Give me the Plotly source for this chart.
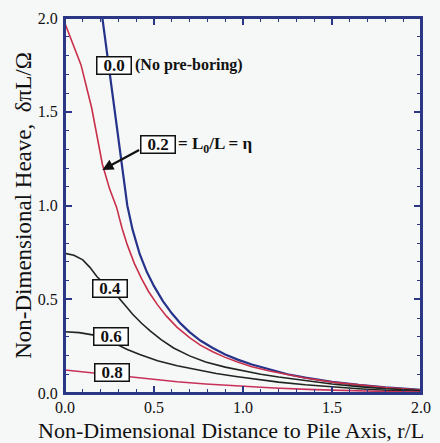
import plotly.graph_objects as go

# Non-dimensional distance r/L and heave for each pre-boring ratio eta = L0/L
r_eta00 = [0.21, 0.28, 0.35, 0.38, 0.42, 0.46, 0.50, 0.55, 0.60, 0.65, 0.70, 0.76, 0.83, 0.90, 0.97, 1.05, 1.15, 1.25, 1.35, 1.50, 1.65, 1.80, 2.00]
v_eta00 = [2.00, 1.50, 1.00, 0.87, 0.74, 0.645, 0.57, 0.49, 0.425, 0.37, 0.325, 0.28, 0.24, 0.205, 0.178, 0.152, 0.125, 0.10, 0.082, 0.06, 0.043, 0.03, 0.017]

r_eta02 = [0.00, 0.09, 0.15, 0.21, 0.25, 0.29, 0.32, 0.35, 0.39, 0.43, 0.47, 0.52, 0.57, 0.63, 0.70, 0.76, 0.83, 0.90, 0.97, 1.05, 1.15, 1.25, 1.35, 1.50, 1.65, 1.80, 2.00]
v_eta02 = [1.97, 1.75, 1.52, 1.22, 1.09, 0.99, 0.88, 0.79, 0.69, 0.61, 0.54, 0.47, 0.41, 0.35, 0.295, 0.255, 0.22, 0.19, 0.165, 0.14, 0.117, 0.097, 0.08, 0.058, 0.042, 0.029, 0.016]

r_eta04 = [0.00, 0.05, 0.10, 0.14, 0.18, 0.22, 0.26, 0.30, 0.34, 0.38, 0.43, 0.48, 0.54, 0.61, 0.70, 0.79, 0.90, 1.00, 1.10, 1.20, 1.35, 1.50, 1.65, 1.80, 2.00]
v_eta04 = [0.745, 0.735, 0.71, 0.67, 0.62, 0.585, 0.55, 0.51, 0.465, 0.42, 0.372, 0.33, 0.285, 0.24, 0.198, 0.165, 0.138, 0.118, 0.10, 0.085, 0.065, 0.048, 0.034, 0.023, 0.013]

r_eta06 = [0.00, 0.08, 0.155, 0.20, 0.25, 0.30, 0.35, 0.42, 0.52, 0.63, 0.74, 0.85, 0.96, 1.08, 1.20, 1.35, 1.50, 1.65, 1.80, 2.00]
v_eta06 = [0.327, 0.322, 0.31, 0.297, 0.278, 0.255, 0.232, 0.205, 0.172, 0.145, 0.123, 0.104, 0.088, 0.072, 0.058, 0.044, 0.032, 0.023, 0.015, 0.009]

r_eta08 = [0.00, 0.155, 0.26, 0.36, 0.50, 0.63, 0.79, 0.96, 1.175, 1.40, 1.60, 1.80, 2.00]
v_eta08 = [0.123, 0.107, 0.098, 0.087, 0.072, 0.06, 0.048, 0.038, 0.027, 0.018, 0.012, 0.008, 0.005]

tick_vals = [0.0, 0.5, 1.0, 1.5, 2.0]
tick_text = ["0.0", "0.5", "1.0", "1.5", "2.0"]

# Curve labels: (text, r, v)
curve_labels = [("0.0", 0.273, 1.749), ("0.2", 0.522, 1.323), ("0.4", 0.254, 0.56),
                ("0.6", 0.257, 0.299), ("0.8", 0.265, 0.112)]

NAVY = "#2b3784"
SERIF = "Times New Roman, Liberation Serif, serif"

series = [
    (r_eta00, v_eta00, "#26338a", 2.2),
    (r_eta02, v_eta02, "#c8304a", 1.6),
    (r_eta04, v_eta04, "#1f261f", 1.6),
    (r_eta06, v_eta06, "#1f261f", 1.6),
    (r_eta08, v_eta08, "#c8305a", 1.6),
]

fig = go.Figure()
for rx, vy, col, w in series:
    fig.add_trace(go.Scatter(x=rx, y=vy, mode="lines", line=dict(color=col, width=w),
                             showlegend=False, hoverinfo="skip"))

# helper trace on the mirrored top/right axes so their ticks are drawn
fig.add_trace(go.Scatter(x=[0, 2], y=[0, 2], xaxis="x2", yaxis="y2", mode="markers",
                         marker=dict(size=1, color="rgba(0,0,0,0)"), showlegend=False, hoverinfo="skip"))

for txt, rx, vy in curve_labels:
    fig.add_annotation(x=rx, y=vy, text="<b>" + txt + "</b>", showarrow=False,
                       font=dict(family=SERIF, size=17, color="#111"), width=33, height=16,
                       bgcolor="white", bordercolor="#111", borderwidth=1.5, borderpad=0)

fig.add_annotation(x=0.383, y=1.749, text="<b>(No pre-boring)</b>", showarrow=False, xanchor="left",
                   font=dict(family=SERIF, size=16, color="#111"))
fig.add_annotation(x=0.625, y=1.323, text="<b>= L<sub>0</sub>/L = η</b>", showarrow=False, xanchor="left",
                   font=dict(family=SERIF, size=17, color="#111"))
# Arrow from the 0.2 label to its curve
fig.add_annotation(x=0.21, y=1.19, ax=0.425, ay=1.30, axref="x", ayref="y", xref="x", yref="y",
                   text="", showarrow=True, arrowhead=2, arrowsize=1, arrowwidth=2.2, arrowcolor="#111")

# x-axis title, centred slightly left of the plot centre
fig.add_annotation(x=0.467, y=-0.0995, xref="paper", yref="paper", yanchor="middle", showarrow=False,
                   text="Non-Dimensional Distance to Pile Axis, r/L",
                   font=dict(family=SERIF, size=22, color="#111"))

# plot frame
fig.add_shape(type="rect", xref="paper", yref="paper", x0=0, y0=0, x1=1, y1=1,
              line=dict(color=NAVY, width=2), layer="above")

axis_common = dict(
    range=[0, 2.0], tickvals=tick_vals, ticktext=tick_text, ticks="inside", ticklen=7, tickwidth=1.5,
    tickcolor=NAVY, showline=True, linecolor=NAVY, linewidth=2, showgrid=False,
    zeroline=False, tickfont=dict(family=SERIF, size=16, color="#111"), ticklabeloverflow="allow",
    minor=dict(dtick=0.1, ticks="inside", ticklen=4, tickwidth=1.2, tickcolor=NAVY, showgrid=False),
)

fig.update_layout(
    width=440, height=443, margin=dict(l=65, r=9, t=18, b=50),
    paper_bgcolor="#f6f7f7", plot_bgcolor="#f6f7f7",
    xaxis=dict(**axis_common, ticklabelstandoff=-1),
    yaxis=dict(**axis_common, ticklabelstandoff=2,
               title=dict(text="Non-Dimensional Heave,  δπL/Ω",
                          font=dict(family=SERIF, size=23, color="#111"), standoff=0)),
    xaxis2=dict(**axis_common, overlaying="x", side="top", anchor="y", showticklabels=False),
    yaxis2=dict(**axis_common, overlaying="y", side="right", anchor="x", showticklabels=False),
)

fig.write_html("out.html")
